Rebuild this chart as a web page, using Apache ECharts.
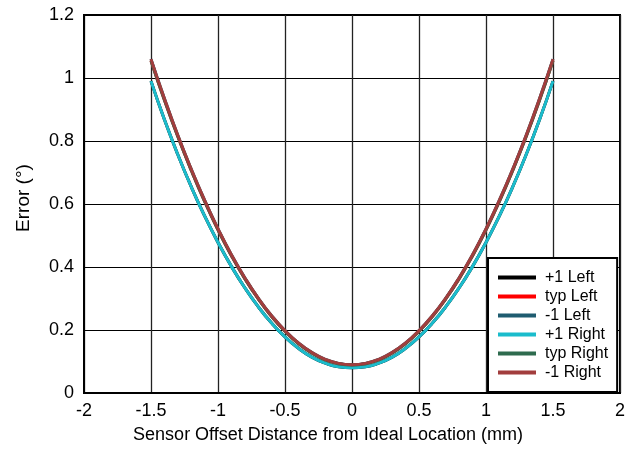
<!DOCTYPE html>
<html>
<head>
<meta charset="utf-8">
<script src="https://cdn.jsdelivr.net/npm/echarts@6/dist/echarts.min.js"></script>
<style>
html,body{margin:0;padding:0;background:#fff;}
#chart{width:631px;height:449px;}
</style>
</head>
<body>
<div id="chart"></div>
<script>
var xValues = [-1.5,-1.4,-1.3,-1.2,-1.1,-1.0,-0.9,-0.8,-0.7,-0.6,-0.5,-0.4,-0.3,-0.2,-0.1,0,0.1,0.2,0.3,0.4,0.5,0.6,0.7,0.8,0.9,1.0,1.1,1.2,1.3,1.4,1.5];
var plus1Left  = [0.99,0.868,0.757,0.655,0.562,0.478,0.402,0.334,0.274,0.222,0.178,0.142,0.114,0.095,0.083,0.08,0.083,0.095,0.114,0.142,0.178,0.222,0.274,0.334,0.402,0.478,0.562,0.655,0.757,0.868,0.99];
var typLeft    = [1.055,0.93,0.814,0.707,0.608,0.518,0.436,0.363,0.299,0.243,0.196,0.157,0.127,0.105,0.093,0.089,0.093,0.105,0.127,0.157,0.196,0.243,0.299,0.363,0.436,0.518,0.608,0.707,0.814,0.93,1.055];
var minus1Left = [1.06,0.935,0.818,0.711,0.612,0.521,0.439,0.366,0.301,0.245,0.198,0.159,0.129,0.107,0.094,0.09,0.094,0.107,0.129,0.159,0.198,0.245,0.301,0.366,0.439,0.521,0.612,0.711,0.818,0.935,1.06];
var plus1Right = [0.99,0.868,0.757,0.655,0.562,0.478,0.402,0.334,0.274,0.222,0.178,0.142,0.114,0.095,0.083,0.08,0.083,0.095,0.114,0.142,0.178,0.222,0.274,0.334,0.402,0.478,0.562,0.655,0.757,0.868,0.99];
var typRight   = [1.055,0.93,0.814,0.707,0.608,0.518,0.436,0.363,0.299,0.243,0.196,0.157,0.127,0.105,0.093,0.089,0.093,0.105,0.127,0.157,0.196,0.243,0.299,0.363,0.436,0.518,0.608,0.707,0.814,0.93,1.055];
var minus1Right= [1.06,0.935,0.818,0.711,0.612,0.521,0.439,0.366,0.301,0.245,0.198,0.159,0.129,0.107,0.094,0.09,0.094,0.107,0.129,0.159,0.198,0.245,0.301,0.366,0.439,0.521,0.612,0.711,0.818,0.935,1.06];

var seriesNames = ['+1 Left','typ Left','-1 Left','+1 Right','typ Right','-1 Right'];
var seriesValues = [plus1Left, typLeft, minus1Left, plus1Right, typRight, minus1Right];
var seriesColors = ['#000000','#ff0000','#1f5c70','#1bbccc','#2e6b4e','#a23d3d'];

var FONT = 'Liberation Sans, Arial, sans-serif';

function pairs(ys){ return xValues.map(function(x,i){ return [x, ys[i]]; }); }

var chart = echarts.init(document.getElementById('chart'), null, {renderer:'canvas'});
chart.setOption({
  animation:false,
  backgroundColor:'#fff',
  grid:{left:84,right:11,top:15,bottom:54,show:true,borderColor:'#000',borderWidth:2,backgroundColor:'transparent'},
  xAxis:{
    type:'value',min:-2,max:2,interval:0.5,
    name:'Sensor Offset Distance from Ideal Location (mm)',
    nameLocation:'middle',nameGap:33,
    nameTextStyle:{fontFamily:FONT,fontSize:18,color:'#000',padding:[0,48,0,0]},
    axisLine:{show:true,onZero:false,lineStyle:{color:'#000',width:2}},
    axisTick:{show:false},
    axisLabel:{fontFamily:FONT,fontSize:18,color:'#000',margin:9},
    splitLine:{show:true,lineStyle:{color:'#222',width:1.3}}
  },
  yAxis:{
    type:'value',min:0,max:1.2,interval:0.2,
    name:'Error (°)',
    nameLocation:'middle',nameGap:51,
    nameTextStyle:{fontFamily:FONT,fontSize:19,color:'#000',padding:[0,0,0,12]},
    axisLine:{show:true,onZero:false,lineStyle:{color:'#000',width:2}},
    axisTick:{show:false},
    axisLabel:{fontFamily:FONT,fontSize:18,color:'#000',margin:10},
    splitLine:{show:true,lineStyle:{color:'#000',width:1}}
  },
  legend:{
    orient:'vertical',left:488,top:258,
    padding:[10,9,10,10],
    backgroundColor:'#fff',borderColor:'#000',borderWidth:2,
    itemWidth:38,itemHeight:4,itemGap:0,
    icon:'rect',
    textStyle:{fontFamily:FONT,fontSize:16,color:'#000',lineHeight:19,padding:[0,0,0,4]},
    data:seriesNames
  },
  series:seriesNames.map(function(n,i){
    return {
      name:n,type:'line',data:pairs(seriesValues[i]),
      showSymbol:false,smooth:true,
      itemStyle:{color:seriesColors[i]},
      lineStyle:{color:seriesColors[i],width:3}
    };
  })
});
</script>
</body>
</html>
